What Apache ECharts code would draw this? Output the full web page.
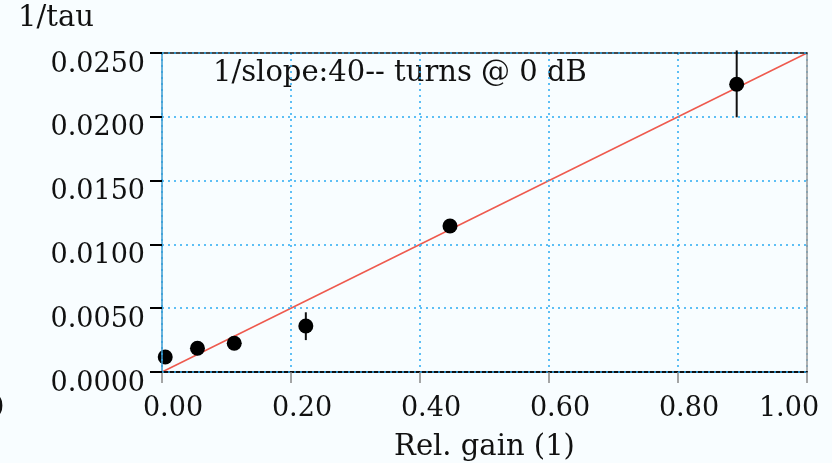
<!DOCTYPE html>
<html>
<head>
<meta charset="utf-8">
<script src="https://cdn.jsdelivr.net/npm/echarts@6/dist/echarts.min.js"></script>
<style>
html,body{margin:0;padding:0;background:#f8fdff;overflow:hidden;}
#c{width:832px;height:463px;}
</style>
</head>
<body>
<div id="c"></div>
<script>
// Data
const gain = [0.005, 0.055, 0.112, 0.223, 0.4465, 0.891];
const invTau = [0.00118, 0.00186, 0.00225, 0.0036, 0.01144, 0.02255];
const errLow = [null, null, null, 0.0025, null, 0.01996];
const errHigh = [null, null, null, 0.00468, null, 0.0252];
const fitX = [0, 1];
const fitY = [0, 0.025];
const xTicks = ['0.00', '0.20', '0.40', '0.60', '0.80', '1.00'];
const yTicks = ['0.0000', '0.0050', '0.0100', '0.0150', '0.0200', '0.0250'];

const FONT = 'DejaVu Serif';
const points = gain.map((g, i) => [g, invTau[i]]);
const errs = gain.map((g, i) => [g, errLow[i], errHigh[i]]).filter(d => d[1] != null);
const fit = fitX.map((x, i) => [x, fitY[i]]);

const chart = echarts.init(document.getElementById('c'), null, {renderer: 'canvas'});
chart.setOption({
  backgroundColor: '#f8fdff',
  animation: false,
  grid: {left: 162, right: 25, top: 53, bottom: 91, containLabel: false, outerBoundsMode: 'none'},
  xAxis: [{
    type: 'value', min: 0, max: 1, interval: 0.2, z: 6,
    name: 'Rel. gain (1)', nameLocation: 'middle', nameGap: 61,
    nameTextStyle: {fontFamily: FONT, fontSize: 29, color: '#111'},
    axisLine: {show: true, onZero: false, lineStyle: {color: '#111', width: 2}},
    axisTick: {show: true, length: 11, lineStyle: {color: '#888', width: 1.5}},
    axisLabel: {fontFamily: FONT, fontSize: 27, color: '#111', margin: 23,
      formatter: (v) => {
        const i = Math.round(v / 0.2);
        return i === 5 ? '{b|' + xTicks[i] + '}' : '{a|' + xTicks[i] + '}';
      },
      rich: {
        a: {fontFamily: FONT, fontSize: 27, color: '#111', padding: [0, 0, 0, 22]},
        b: {fontFamily: FONT, fontSize: 27, color: '#111', padding: [0, 36, 0, 0]}
      }},
    splitLine: {show: true, lineStyle: {color: '#2aaaf2', type: [2, 4], width: 1.5}}
  }, {
    type: 'value', min: 0, max: 1, position: 'top', z: 6,
    axisLine: {show: true, onZero: false, lineStyle: {color: '#111', width: 1.5}},
    axisTick: {show: false}, axisLabel: {show: false}, splitLine: {show: false}
  }],
  yAxis: [{
    type: 'value', min: 0, max: 0.025, interval: 0.005, z: 7,
    axisLine: {show: true, onZero: false, lineStyle: {color: '#3a9ad0', width: 1.5}},
    axisTick: {show: true, length: 12, lineStyle: {color: '#000', width: 2}},
    axisLabel: {fontFamily: FONT, fontSize: 27, color: '#111', margin: 17, verticalAlign: 'top',
      padding: [-2, 0, 0, 0],
      formatter: (v) => yTicks[Math.round(v / 0.005)]},
    splitLine: {show: true, lineStyle: {color: '#2aaaf2', type: [2, 4], width: 1.5}}
  }, {
    type: 'value', min: 0, max: 0.025, position: 'right', z: 6,
    axisLine: {show: true, onZero: false, lineStyle: {color: '#999', width: 1.5}},
    axisTick: {show: false}, axisLabel: {show: false}, splitLine: {show: false}
  }],
  graphic: [
    {type: 'text', left: 18, top: 4, style: {text: '1/tau', font: '29px "DejaVu Serif"', fill: '#111'}},
    {type: 'text', left: 213, top: 59, style: {text: '1/slope:40-- turns @ 0 dB', font: '29px "DejaVu Serif"', fill: '#111'}},
    {type: 'text', left: -13, top: 395, style: {text: '0', font: '27px "DejaVu Serif"', fill: '#111'}}
  ],
  series: [
    {
      type: 'line', data: fit, symbol: 'none', z: 3,
      lineStyle: {color: '#ee5a4e', width: 1.5}
    },
    {
      type: 'custom', data: errs, z: 4, clip: false,
      renderItem: (params, api) => {
        const top = api.coord([api.value(0), api.value(2)]);
        const bot = api.coord([api.value(0), api.value(1)]);
        return {type: 'line', shape: {x1: top[0], y1: top[1], x2: bot[0], y2: bot[1]},
          style: {stroke: '#111', lineWidth: 2}};
      },
      encode: {x: 0, y: [1, 2]}
    },
    {
      type: 'scatter', data: points, symbol: 'circle', symbolSize: 15, z: 5,
      itemStyle: {color: '#000', opacity: 1}
    }
  ]
});
</script>
</body>
</html>
